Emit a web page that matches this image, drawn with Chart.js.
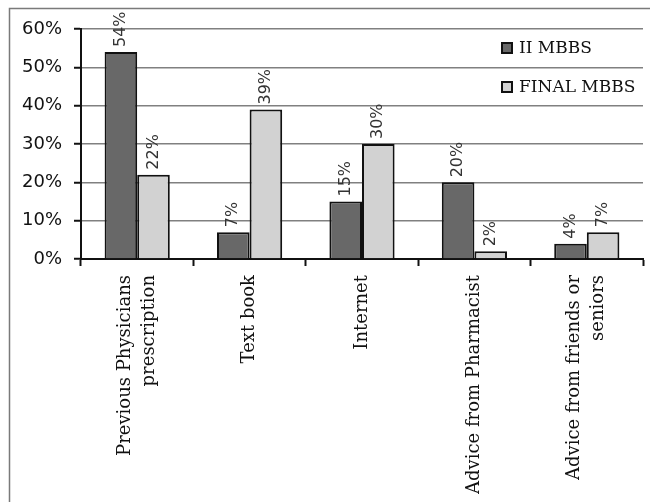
<!DOCTYPE html>
<html>
<head>
<meta charset="utf-8">
<title>Sources of drug information</title>
<script src="https://cdn.jsdelivr.net/npm/chart.js@4.4.1/dist/chart.umd.min.js"></script>
<style>
  html, body { margin: 0; padding: 0; background: #fff; }
  canvas { display: block; }
</style>
</head>
<body>
<canvas id="chart" width="650" height="502"></canvas>
<script>
// Categories (multi-line labels) and the two student groups, in percent
const categories = [
  ['Previous Physicians', 'prescription'],
  ['Text book'],
  ['Internet'],
  ['Advice from Pharmacist'],
  ['Advice from friends or', 'seniors']
];
const seriesNames = ['II MBBS', 'FINAL MBBS'];
const iiMbbs = [54, 7, 15, 20, 4];
const finalMbbs = [22, 39, 30, 2, 7];
const yTicks = [0, 10, 20, 30, 40, 50, 60];

const DARK = '#686868';
const LIGHT = '#d2d2d2';

// Frame lines along the top and left edge of the figure
const framePlugin = {
  id: 'frame',
  afterDraw(chart) {
    const ctx = chart.ctx;
    ctx.save();
    ctx.strokeStyle = '#7a7a7a';
    ctx.lineWidth = 1.5;
    ctx.beginPath();
    ctx.moveTo(9.5, 502);
    ctx.lineTo(9.5, 8.5);
    ctx.lineTo(650, 8.5);
    ctx.stroke();
    ctx.restore();
  }
};

// Rotated value labels above each bar
const valueLabels = {
  id: 'valueLabels',
  afterDatasetsDraw(chart) {
    const ctx = chart.ctx;
    ctx.save();
    ctx.font = '16px "DejaVu Sans"';
    ctx.fillStyle = '#333';
    ctx.textAlign = 'left';
    ctx.textBaseline = 'middle';
    chart.data.datasets.forEach((ds, di) => {
      chart.getDatasetMeta(di).data.forEach((bar, i) => {
        ctx.save();
        ctx.translate(bar.x, bar.y - 5);
        ctx.rotate(-Math.PI / 2);
        ctx.fillText(ds.data[i] + '%', 0, 0);
        ctx.restore();
      });
    });
    ctx.restore();
  }
};

// Vertical category labels, each block centred on its category
const categoryLabels = {
  id: 'categoryLabels',
  afterDraw(chart) {
    const ctx = chart.ctx;
    const xs = chart.scales.x;
    const lh = 24;
    ctx.save();
    ctx.font = '18px "DejaVu Serif"';
    ctx.fillStyle = '#111';
    ctx.textAlign = 'right';
    ctx.textBaseline = 'middle';
    categories.forEach((lines, i) => {
      const cx = xs.getPixelForValue(i);
      lines.forEach((line, j) => {
        const x = cx + (j - (lines.length - 1) / 2) * lh;
        ctx.save();
        ctx.translate(x, xs.top + 16);
        ctx.rotate(-Math.PI / 2);
        ctx.fillText(line, 0, 0);
        ctx.restore();
      });
    });
    ctx.restore();
  }
};

// Legend inside the plot, top right
const insideLegend = {
  id: 'insideLegend',
  afterDraw(chart) {
    const ctx = chart.ctx;
    const x0 = 501, ys = [48, 87];
    ctx.save();
    ctx.font = '17px "DejaVu Serif"';
    ctx.textAlign = 'left';
    ctx.textBaseline = 'middle';
    chart.data.datasets.forEach((ds, i) => {
      const y = ys[i];
      ctx.fillStyle = ds.backgroundColor;
      ctx.fillRect(x0, y - 6, 12, 12);
      ctx.strokeStyle = '#111';
      ctx.lineWidth = 2;
      ctx.strokeRect(x0 + 1, y - 5, 10, 10);
      ctx.fillStyle = '#111';
      ctx.fillText(ds.label, x0 + 18, y + 1);
    });
    ctx.restore();
  }
};

new Chart(document.getElementById('chart'), {
  type: 'bar',
  data: {
    labels: categories,
    datasets: [
      { label: seriesNames[0], data: iiMbbs, backgroundColor: DARK },
      { label: seriesNames[1], data: finalMbbs, backgroundColor: LIGHT }
    ]
  },
  options: {
    responsive: false,
    animation: false,
    devicePixelRatio: 1,
    layout: { padding: { top: 29, right: 7, left: 0, bottom: 0 } },
    datasets: {
      bar: {
        borderColor: '#111',
        borderWidth: 2,
        categoryPercentage: 0.58,
        barPercentage: 1.0
      }
    },
    plugins: {
      legend: { display: false },
      tooltip: { enabled: false }
    },
    scales: {
      x: {
        afterFit(scale) { scale.height = 243; },
        grid: {
          offset: true,
          drawOnChartArea: false,
          drawTicks: true,
          tickLength: 7,
          tickColor: '#111',
          tickWidth: 2
        },
        border: { color: '#111', width: 2 },
        ticks: { display: false }
      },
      y: {
        min: 0,
        max: 60,
        afterFit(scale) { scale.width = 81; },
        afterBuildTicks(scale) { scale.ticks = yTicks.map(v => ({ value: v })); },
        grid: {
          color: '#808080',
          lineWidth: 1.5,
          drawTicks: true,
          tickLength: 7,
          tickColor: '#111',
          tickWidth: 2
        },
        border: { color: '#111', width: 2 },
        ticks: {
          padding: 12,
          color: '#111',
          font: { family: 'DejaVu Sans', size: 18 },
          callback: v => v + '%'
        }
      }
    }
  },
  plugins: [framePlugin, valueLabels, categoryLabels, insideLegend]
});
</script>
</body>
</html>
